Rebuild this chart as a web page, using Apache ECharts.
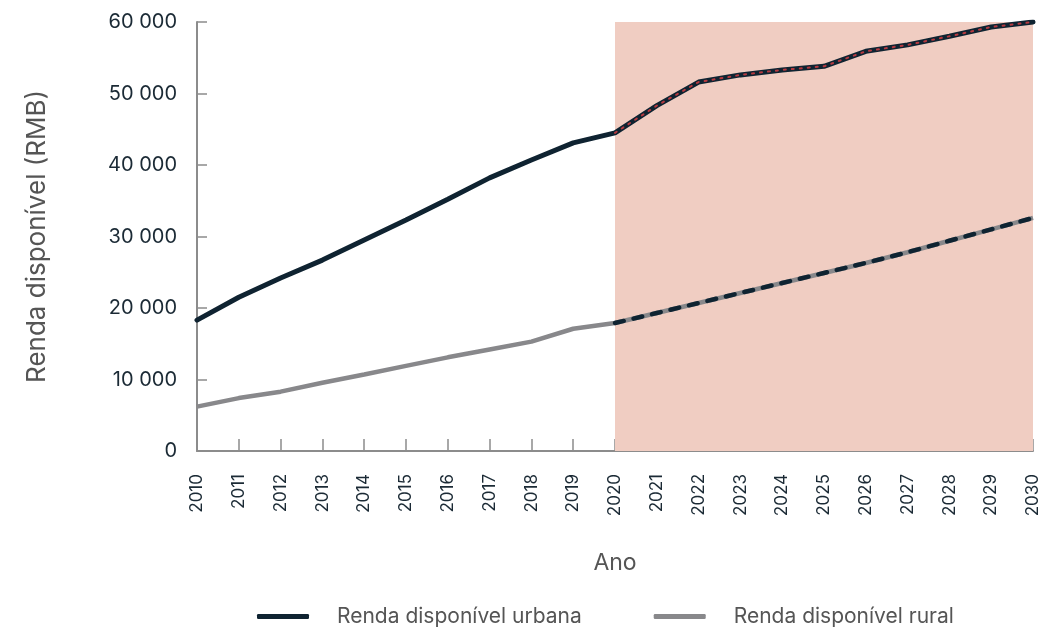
<!DOCTYPE html>
<html>
<head>
<meta charset="utf-8">
<script src="https://cdn.jsdelivr.net/npm/echarts@6/dist/echarts.min.js"></script>
<style>
html,body{margin:0;padding:0;background:#fff;}
#renda{width:1045px;height:635px;}
</style>
</head>
<body>
<div id="renda"></div>
<script>
// dados
var anos = ['2010','2011','2012','2013','2014','2015','2016','2017','2018','2019','2020',
	'2021','2022','2023','2024','2025','2026','2027','2028','2029','2030'];
var urbana = [18300,21500,24200,26700,29500,32300,35200,38200,40700,43100,44500,
	48300,51600,52600,53300,53800,55900,56800,58000,59300,60000];
var rural = [6200,7400,8300,9550,10700,11900,13100,14200,15300,17100,17900,
	19300,20700,22100,23500,24900,26300,27800,29400,31000,32600];
// projeção (2020-2030)
var urbanaProj = [null,null,null,null,null,null,null,null,null,null,44500,
	48300,51600,52600,53300,53800,55900,56800,58000,59300,60000];
var ruralProj = [null,null,null,null,null,null,null,null,null,null,17900,
	19300,20700,22100,23500,24900,26300,27800,29400,31000,32600];
var yTicks = [0,10000,20000,30000,40000,50000,60000];

var fonte = 'Inter, "Open Sans", sans-serif';
var renda = echarts.init(document.getElementById('renda'));
window.onresize = renda.resize;

renda.setOption({
	animation: false,
	textStyle: {fontFamily: fonte},
	grid: {left: 197, right: 12, top: 22, bottom: 184},
	legend: {
		bottom: 3,
		left: 252,
		data: ['Renda disponível urbana','Renda disponível rural'],
		icon: 'roundRect',
		itemWidth: 52,
		itemHeight: 5,
		itemGap: 72,
		textStyle: {color: '#555', fontSize: 21, fontFamily: fonte, padding: [0,0,0,23]}
	},
	xAxis: {
		type: 'category',
		data: anos,
		boundaryGap: false,
		name: 'Ano',
		nameLocation: 'middle',
		nameGap: 101,
		nameTextStyle: {color: '#555', fontSize: 23, fontFamily: fonte},
		axisLine: {lineStyle: {color: '#8c8c8c', width: 2}},
		axisTick: {inside: true, length: 12, lineStyle: {color: '#8c8c8c', width: 1.5}},
		axisLabel: {rotate: 90, margin: 23, color: '#1b2a35', fontSize: 17, interval: 0, fontFamily: fonte},
		splitLine: {show: false}
	},
	yAxis: {
		type: 'value',
		min: yTicks[0],
		max: yTicks[yTicks.length-1],
		interval: 10000,
		name: 'Renda disponível (RMB)',
		nameLocation: 'middle',
		nameGap: 147,
		nameTextStyle: {color: '#555', fontSize: 26, fontFamily: fonte},
		axisLine: {show: true, lineStyle: {color: '#8c8c8c', width: 2}},
		axisTick: {show: true, inside: true, length: 10, lineStyle: {color: '#8c8c8c', width: 1.5}},
		axisLabel: {
			color: '#1b2a35', fontSize: 20, margin: 20, fontFamily: fonte,
			formatter: function(v){ return String(v).replace(/\B(?=(\d{3})+(?!\d))/g, ' '); }
		},
		splitLine: {show: false}
	},
	series: [
		{
			name: 'Renda disponível rural',
			type: 'line',
			data: rural,
			symbol: 'none',
			z: 2,
			itemStyle: {color: '#88888b'},
			lineStyle: {color: '#88888b', width: 4.5},
			markArea: {
				silent: true,
				itemStyle: {color: '#f0cdc2'},
				data: [[{xAxis: '2020'}, {xAxis: '2030'}]]
			}
		},
		{
			name: 'Renda disponível urbana',
			type: 'line',
			data: urbana,
			symbol: 'none',
			z: 3,
			itemStyle: {color: '#0f2331'},
			lineStyle: {color: '#0f2331', width: 5, cap: 'round'}
		},
		{
			name: 'urbana projeção',
			type: 'line',
			data: urbanaProj,
			symbol: 'none',
			z: 4,
			lineStyle: {color: '#b53a40', width: 2, type: [2, 6], cap: 'round'}
		},
		{
			name: 'rural projeção',
			type: 'line',
			data: ruralProj,
			symbol: 'none',
			z: 4,
			lineStyle: {color: '#0f2331', width: 4.5, type: [9, 10], cap: 'round'}
		}
	]
});
</script>
</body>
</html>
